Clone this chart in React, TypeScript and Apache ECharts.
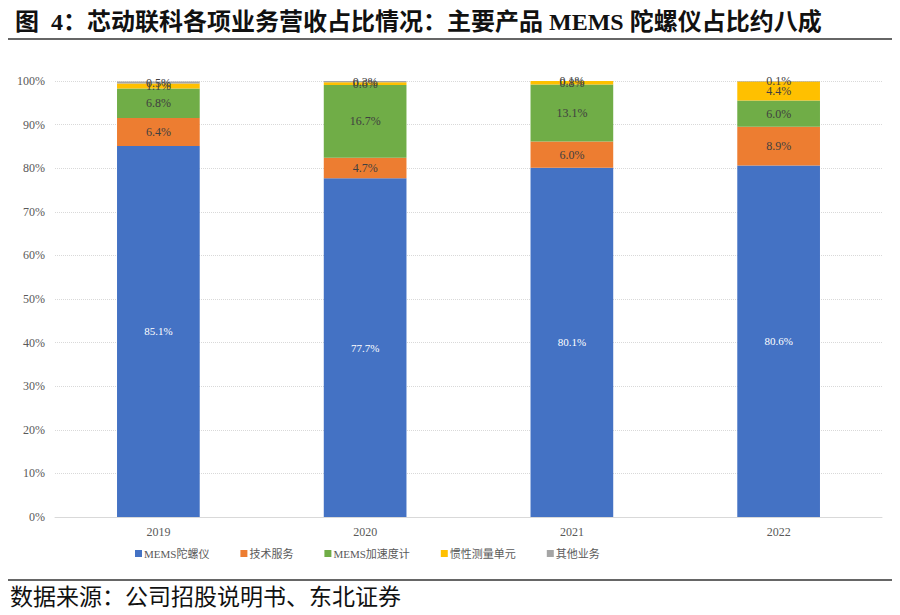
import React, { useEffect, useRef } from "react";
import * as echarts from "echarts";

const years = ["2019", "2020", "2021", "2022"];
const gyro = [85.1, 77.7, 80.1, 80.6];
const techService = [6.4, 4.7, 6.0, 8.9];
const accel = [6.8, 16.7, 13.1, 6.0];
const imu = [1.1, 0.6, 0.8, 4.4];
const others = [0.5, 0.3, 0.1, 0.1];
const yTicks = [0, 10, 20, 30, 40, 50, 60, 70, 80, 90, 100];

const seriesNames = ["MEMS陀螺仪", "技术服务", "MEMS加速度计", "惯性测量单元", "其他业务"];
const seriesData = [gyro, techService, accel, imu, others];
const colors = ["#4472C4", "#ED7D31", "#70AD47", "#FFC000", "#A5A5A5"];

const SERIF = "'Times New Roman', 'Liberation Serif', 'Noto Sans CJK SC', serif";

export default function App() {
  const ref = useRef<HTMLDivElement>(null);
  useEffect(() => {
    if (!ref.current) return;
    const chart = echarts.init(ref.current, null, { renderer: "svg" });
    chart.setOption({
      animation: false,
      backgroundColor: "#ffffff",
      color: colors,
      title: {
        text: "图  4：芯动联科各项业务营收占比情况：主要产品 MEMS 陀螺仪占比约八成",
        left: 10,
        top: 5,
        textStyle: { fontFamily: SERIF, fontSize: 24, fontWeight: "bold", color: "#111" },
      },
      graphic: [
        { type: "line", shape: { x1: 8, y1: 39, x2: 892, y2: 39 }, style: { stroke: "#333", lineWidth: 1.5 } },
        { type: "line", shape: { x1: 8, y1: 580, x2: 892, y2: 580 }, style: { stroke: "#333", lineWidth: 1.5 } },
        {
          type: "text",
          left: 10,
          top: 586,
          style: { text: "数据来源：公司招股说明书、东北证券", font: `23px ${SERIF}`, fill: "#111" },
        },
      ],
      grid: { left: 55, right: 18, top: 81, bottom: 98, containLabel: false },
      legend: {
        data: seriesNames,
        left: 130,
        top: 543,
        itemWidth: 7,
        itemHeight: 7,
        itemGap: 31,
        icon: "rect",
        textStyle: { fontFamily: SERIF, fontSize: 11, color: "#595959", padding: [0, 0, 0, -3] },
      },
      xAxis: {
        type: "category",
        data: years,
        axisLine: { lineStyle: { color: "#D9D9D9" } },
        axisTick: { show: false },
        axisLabel: { fontFamily: SERIF, fontSize: 12, color: "#595959", margin: 9 },
      },
      yAxis: {
        type: "value",
        min: yTicks[0],
        max: yTicks[yTicks.length - 1],
        interval: 10,
        axisLine: { show: false },
        axisTick: { show: false },
        splitLine: { lineStyle: { color: "#D9D9D9", type: "dotted" } },
        axisLabel: { fontFamily: SERIF, fontSize: 12, color: "#595959", margin: 10, formatter: (v: number) => `${v}%` },
      },
      series: seriesNames.map((name, i) => ({
        name,
        type: "bar",
        stack: "total",
        barWidth: "40%",
        data: seriesData[i],
        itemStyle: { color: colors[i] },
        label: {
          show: true,
          position: "inside",
          fontFamily: SERIF,
          fontSize: i === 0 ? 11 : 12,
          color: i === 0 ? "#ffffff" : "#404040",
          formatter: (p: any) => `${Number(p.value).toFixed(1)}%`,
        },
      })),
    });
    return () => chart.dispose();
  }, []);
  return <div ref={ref} style={{ position: "absolute", left: 0, top: 0, width: 900, height: 615 }} />;
}
